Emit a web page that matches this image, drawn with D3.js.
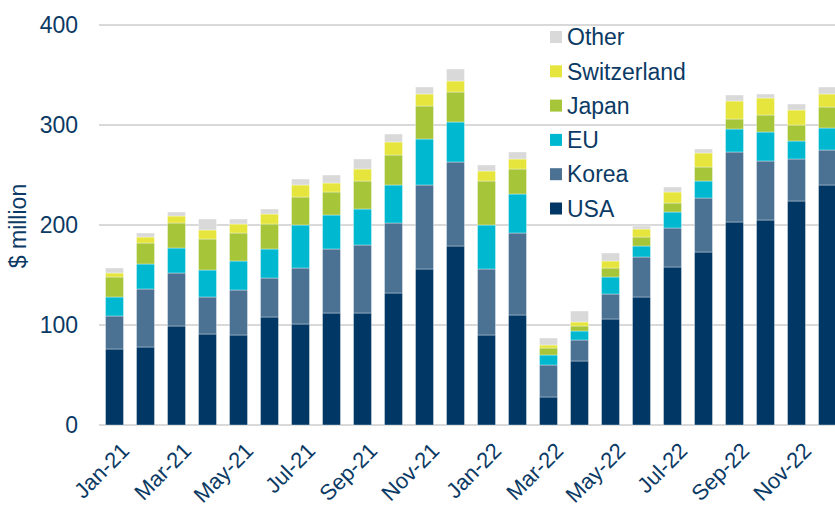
<!DOCTYPE html>
<html>
<head>
<meta charset="utf-8">
<script src="https://cdn.jsdelivr.net/npm/d3@7"></script>
<style>
  body { margin: 0; background: #fff; overflow: hidden; }
  text { font-family: "Liberation Sans", Arial, sans-serif; fill: #0b3a64; }
</style>
</head>
<body>
<div id="chart"></div>
<script>
const months = ['Jan-21','Feb-21','Mar-21','Apr-21','May-21','Jun-21','Jul-21','Aug-21','Sep-21','Oct-21','Nov-21','Dec-21',
                'Jan-22','Feb-22','Mar-22','Apr-22','May-22','Jun-22','Jul-22','Aug-22','Sep-22','Oct-22','Nov-22','Dec-22'];
const seriesNames = ['USA', 'Korea', 'EU', 'Japan', 'Switzerland', 'Other'];
const usa         = [76, 78, 99, 91, 90, 108, 101, 112, 112, 132, 156, 179, 90, 110, 28, 64, 106, 128, 158, 173, 203, 205, 224, 240];
const korea       = [33, 58, 53, 37, 45, 39, 56, 64, 68, 70, 84, 84, 66, 82, 32, 21, 25, 40, 39, 54, 70, 59, 42, 35];
const eu          = [19, 25, 25, 27, 29, 29, 43, 34, 36, 38, 46, 40, 44, 39, 10, 9, 17, 11, 16, 17, 23, 29, 18, 22];
const japan       = [20, 21, 25, 31, 28, 25, 28, 23, 28, 30, 33, 30, 44, 25, 7, 5, 9, 9, 9, 14, 10, 17, 16, 21];
const switzerland = [4, 6, 7, 9, 9, 10, 12, 9, 12, 13, 12, 11, 10, 10, 3, 4, 7, 8, 11, 14, 18, 17, 15, 13];
const other       = [5, 4, 4, 11, 5, 5, 6, 8, 10, 8, 7, 12, 6, 7, 7, 11, 8, 3, 5, 4, 6, 4, 6, 7];
const yTicks = [0, 100, 200, 300, 400];
const colors = ['#003764', '#4b7193', '#00b9d1', '#a6c539', '#e5e53e', '#d9d9d9'];

const width = 835, height = 507;
const margin = { left: 99, top: 25, bottom: 82 };

const rows = months.map((m, i) => ({
  month: m,
  USA: usa[i], Korea: korea[i], EU: eu[i], Japan: japan[i], Switzerland: switzerland[i], Other: other[i]
}));

const svg = d3.select('#chart').append('svg')
  .attr('width', width)
  .attr('height', height);

// plot runs a bit past the right edge, like the original
const x = d3.scaleBand()
  .domain(months)
  .range([margin.left, 843])
  .paddingInner(0.42)
  .paddingOuter(0.21);

const y = d3.scaleLinear()
  .domain([0, 400])
  .range([height - margin.bottom, margin.top]);

// gridlines
svg.append('g')
  .selectAll('line')
  .data(yTicks)
  .enter()
  .append('line')
  .attr('x1', margin.left)
  .attr('x2', width)
  .attr('y1', d => y(d))
  .attr('y2', d => y(d))
  .attr('stroke', '#d9d9d9')
  .attr('stroke-width', 2);

// y tick labels
svg.append('g')
  .selectAll('text')
  .data(yTicks)
  .enter()
  .append('text')
  .attr('x', 78)
  .attr('y', d => y(d))
  .attr('dy', '0.36em')
  .attr('text-anchor', 'end')
  .style('font-size', '23px')
  .text(d => d);

// y title
svg.append('text')
  .attr('transform', `translate(26, ${y(200) + 1}) rotate(-90)`)
  .attr('text-anchor', 'middle')
  .style('font-size', '23px')
  .text('$ million');

// stacked bars
const stack = d3.stack().keys(seriesNames);
const layers = stack(rows);

svg.append('g')
  .selectAll('g')
  .data(layers)
  .enter()
  .append('g')
  .attr('fill', (d, i) => colors[i])
  .selectAll('rect')
  .data(d => d)
  .enter()
  .append('rect')
  .attr('x', d => x(d.data.month))
  .attr('width', x.bandwidth())
  .attr('y', d => y(d[1]))
  .attr('height', d => y(d[0]) - y(d[1]))
  .attr('stroke', 'rgba(255,255,255,0.45)')
  .attr('stroke-width', 0.8);

// x labels, every other month
svg.append('g')
  .selectAll('text')
  .data(months.filter((m, i) => i % 2 === 0))
  .enter()
  .append('text')
  .attr('transform', d => `translate(${x(d) + x.bandwidth() / 2 + 5}, 441) rotate(-45)`)
  .attr('text-anchor', 'end')
  .attr('dy', '0.72em')
  .style('font-size', '22px')
  .text(d => d);

// legend, reversed so Other is on top
const legendOrder = seriesNames.slice().reverse();
const legend = svg.append('g')
  .selectAll('g')
  .data(legendOrder)
  .enter()
  .append('g')
  .attr('transform', (d, i) => `translate(550, ${37 + i * 34.3})`);

legend.append('rect')
  .attr('x', 0)
  .attr('y', -6)
  .attr('width', 12)
  .attr('height', 12)
  .attr('fill', d => colors[seriesNames.indexOf(d)]);

legend.append('text')
  .attr('x', 17)
  .attr('dy', '0.36em')
  .style('font-size', '23px')
  .text(d => d);
</script>
</body>
</html>
